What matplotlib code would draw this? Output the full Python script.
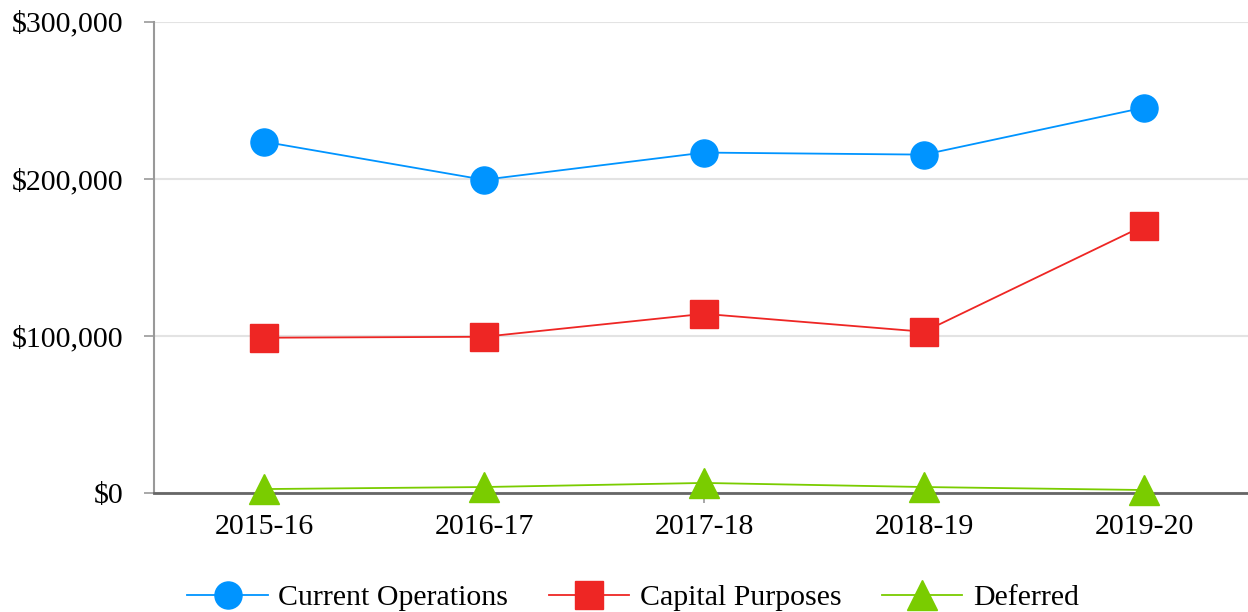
import matplotlib.pyplot as plt
from matplotlib.ticker import FuncFormatter

years = ["2015-16", "2016-17", "2017-18", "2018-19", "2019-20"]
current_ops = [223500, 199300, 216600, 215300, 245200]
capital = [98800, 99400, 114000, 102600, 170100]
deferred = [2500, 3800, 6400, 3800, 1900]

plt.rcParams['font.family'] = ['Liberation Serif', 'DejaVu Serif']

fig = plt.figure(figsize=(12.48, 6.12), dpi=100)
ax = fig.add_axes([154 / 1248, 1 - 493 / 612, 1100 / 1248, (493 - 21.5) / 612])

x = list(range(len(years)))
ax.plot(x, current_ops, color='#0094ff', lw=1.3, marker='o', ms=19.5, label='Current Operations', zorder=4)
ax.plot(x, capital, color='#ee2624', lw=1.3, marker='s', ms=19.5, label='Capital Purposes', zorder=4)
ax.plot(x, deferred, color='#7acc00', lw=1.3, marker='^', ms=21, label='Deferred', zorder=4, clip_on=False)

ax.set_xlim(-0.5, 4.5)
ax.set_ylim(0, 300000)
ax.set_yticks([0, 100000, 200000, 300000])
ax.yaxis.set_major_formatter(FuncFormatter(lambda v, p: "${:,.0f}".format(v)))
ax.set_xticks(x)
ax.set_xticklabels(years)

ax.grid(axis='y', color='#e3e3e3', lw=1.5)
ax.set_axisbelow(True)
for s in ['top', 'right']:
    ax.spines[s].set_visible(False)
ax.spines['left'].set_color('#999999')
ax.spines['left'].set_linewidth(1.5)
ax.spines['bottom'].set_color('#666666')
ax.spines['bottom'].set_linewidth(2)
ax.spines['bottom'].set_zorder(3)

ax.tick_params(axis='y', length=7, width=1.2, color='#999999', pad=15, labelsize=21.5)
ax.tick_params(axis='x', length=7, width=1.2, color='#999999', pad=8, labelsize=21.5)

fig.legend(loc='center', bbox_to_anchor=(633 / 1248, 1 - 598 / 612), ncol=3, frameon=False,
           fontsize=21.5, handlelength=2.7, handletextpad=0.35, columnspacing=1.35,
           borderaxespad=0, borderpad=0)

fig.savefig('out.png', dpi=100)
